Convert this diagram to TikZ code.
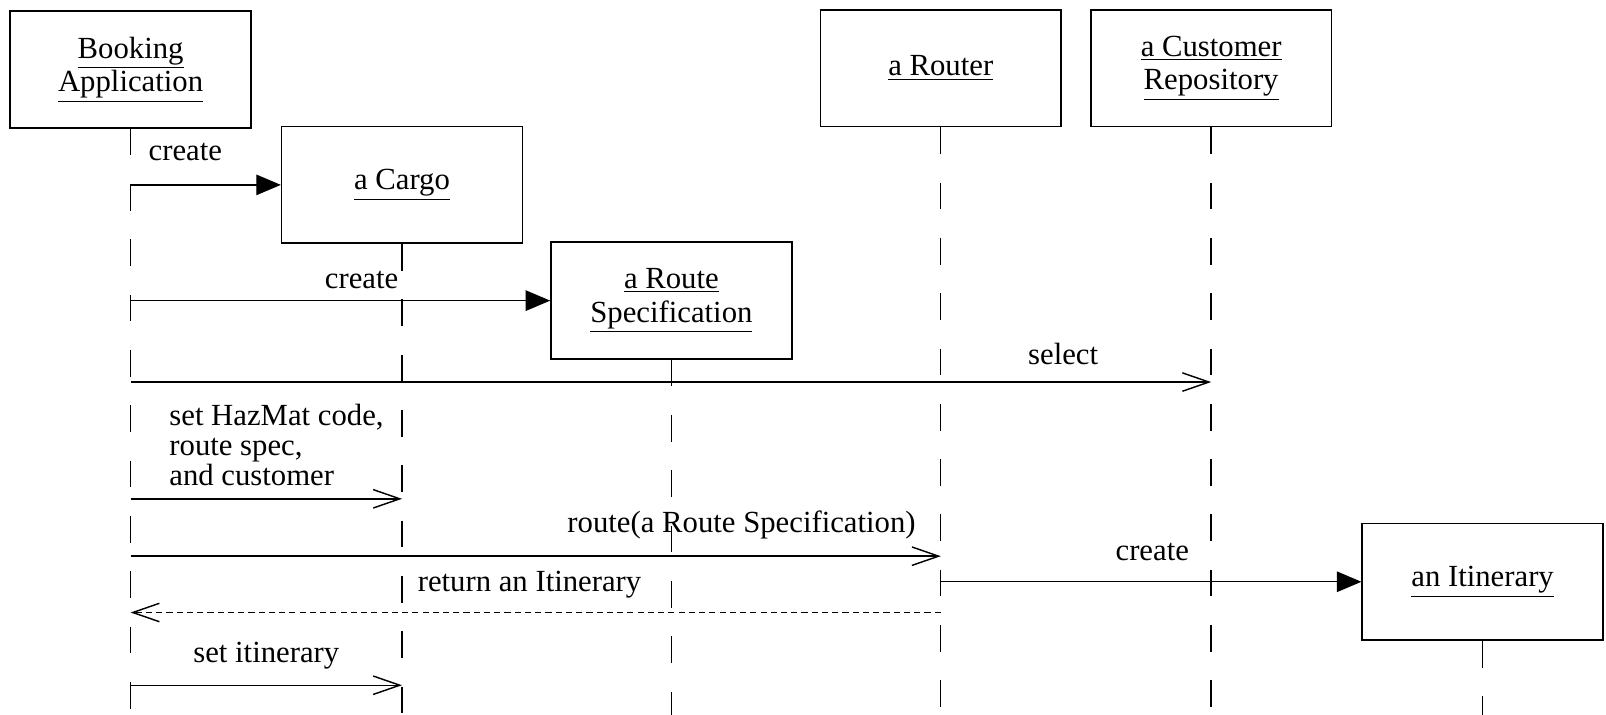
\documentclass[tikz,border=0pt]{standalone}
\usepackage{fontspec}
\setmainfont{Liberation Serif}
\usetikzlibrary{arrows.meta}
\begin{document}
\begin{tikzpicture}[x=0.5pt,y=-0.5pt,
  obj/.style={draw, line width=0.8pt, minimum width=117.5pt, minimum height=57pt, inner sep=0pt, align=center, font=\fontsize{15}{16.5}\selectfont},
  life/.style={line width=0.7pt, dash pattern=on 13pt off 14pt},
  call/.style={line width=0.7pt, -{Triangle[length=12pt,width=10pt]}},
  msg/.style={line width=0.7pt, -{Straight Barb[length=13pt,width=9pt]}},
  ret/.style={line width=0.7pt, dash pattern=on 3pt off 2pt, -{Straight Barb[length=13pt,width=9pt]}},
  lbl/.style={anchor=base, inner sep=0pt, font=\fontsize{15}{15}\selectfont}]
\useasboundingbox (0,0) rectangle (1568,698);
% objects
\node[obj] (ba) at (127.5,68) {\underline{Booking}\\\underline{Application}};
\node[obj] (cargo) at (392.5,180.5) {\underline{a Cargo}};
\node[obj] (rs) at (655.5,293.5) {\underline{a Route}\\\underline{Specification}};
\node[obj] (rt) at (918.5,66.5) {\underline{a Router}};
\node[obj] (cr) at (1182.5,66.5) {\underline{a Customer}\\\underline{Repository}};
\node[obj] (it) at (1447.5,568) {\underline{an Itinerary}};
% rows
\coordinate (bot) at (0,698);
\coordinate (r3) at (0,373);
\coordinate (r4) at (0,487);
\coordinate (r5) at (0,543);
\coordinate (r7) at (0,598);
\coordinate (r8) at (0,669);
% lifelines
\foreach \o in {ba,cargo,rs,rt,cr,it}{
  \draw[life] (\o.south) -- (\o.south |- bot);
}
% messages
\draw[call] (ba.south |- cargo.west) -- (cargo.west);
\node[lbl] (l1) at (181,157) {create};
\draw[call] (ba.south |- rs.west) -- (rs.west);
\node[lbl] (l2) at (353,282) {create};
\draw[msg] (ba.south |- r3) -- (cr.south |- r3);
\node[lbl] (l3) at (1038,356) {select};
\draw[msg] (ba.south |- r4) -- (cargo.south |- r4);
\node[lbl, anchor=north west, align=left, font=\fontsize{15}{14.8}\selectfont] (l4) at (165,394) {set HazMat code,\\route spec,\\and customer};
\draw[msg] (ba.south |- r5) -- (rt.south |- r5);
\node[lbl] (l5) at (724,520) {route(a Route Specification)};
\draw[call] (rt.south |- it.west) -- (it.west);
\node[lbl] (l6) at (1125,547) {create};
\draw[ret] (rt.south |- r7) -- (ba.south |- r7);
\node[lbl] (l7) at (517,577) {return an Itinerary};
\draw[msg] (ba.south |- r8) -- (cargo.south |- r8);
\node[lbl] (l8) at (260,647) {set itinerary};
\end{tikzpicture}
\end{document}
